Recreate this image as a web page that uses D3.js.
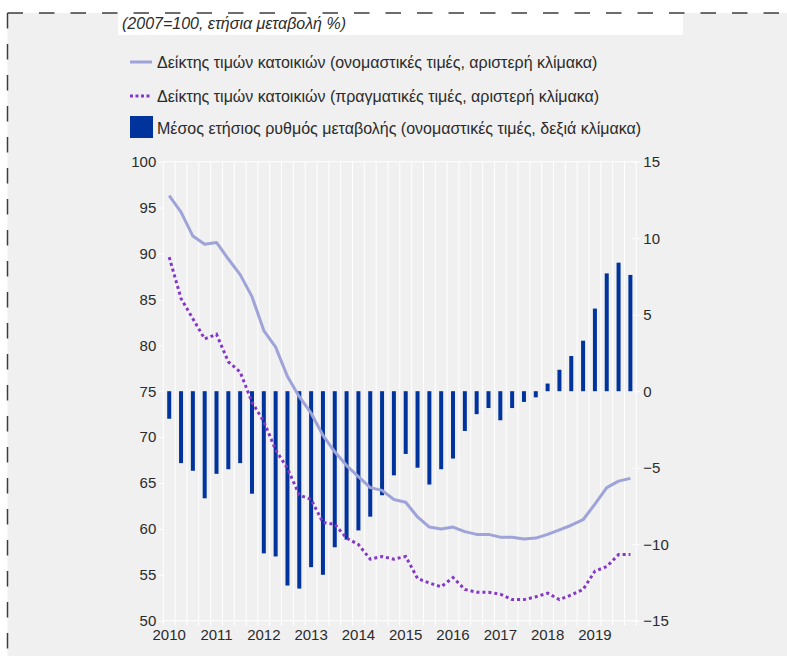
<!DOCTYPE html>
<html>
<head>
<meta charset="utf-8">
<script src="https://cdn.jsdelivr.net/npm/d3@7/dist/d3.min.js"></script>
<style>
  html, body { margin: 0; padding: 0; background: #ffffff; }
  svg { display: block; }
</style>
</head>
<body>
<svg id="chart" width="787" height="656"></svg>
<script>
// ---- Data ----
const quarters = [
  "2010Q1","2010Q2","2010Q3","2010Q4","2011Q1","2011Q2","2011Q3","2011Q4",
  "2012Q1","2012Q2","2012Q3","2012Q4","2013Q1","2013Q2","2013Q3","2013Q4",
  "2014Q1","2014Q2","2014Q3","2014Q4","2015Q1","2015Q2","2015Q3","2015Q4",
  "2016Q1","2016Q2","2016Q3","2016Q4","2017Q1","2017Q2","2017Q3","2017Q4",
  "2018Q1","2018Q2","2018Q3","2018Q4","2019Q1","2019Q2","2019Q3","2019Q4"
];
const yearLabels = ["2010","2011","2012","2013","2014","2015","2016","2017","2018","2019"];
const leftTicks = [50, 55, 60, 65, 70, 75, 80, 85, 90, 95, 100];
const rightTicks = [-15, -10, -5, 0, 5, 10, 15];

// Nominal house price index (left scale)
const nominalIndex = [
  96.3, 94.5, 91.9, 91.0, 91.2, 89.4, 87.7, 85.3,
  81.6, 79.8, 76.6, 74.4, 72.6, 70.2, 68.4, 66.9,
  65.7, 64.5, 64.2, 63.2, 62.9, 61.3, 60.2, 60.0,
  60.2, 59.7, 59.4, 59.4, 59.1, 59.1, 58.9, 59.0,
  59.4, 59.9, 60.4, 61.0, 62.7, 64.5, 65.2, 65.5
];
// Real house price index (left scale)
const realIndex = [
  89.6, 85.1, 82.9, 80.7, 81.2, 78.2, 77.1, 73.8,
  71.7, 68.6, 66.6, 63.7, 63.2, 60.7, 60.5, 59.0,
  58.3, 56.7, 57.0, 56.7, 57.0, 54.6, 54.1, 53.7,
  54.7, 53.4, 53.1, 53.1, 52.9, 52.3, 52.3, 52.6,
  53.0, 52.3, 52.8, 53.4, 55.4, 55.9, 57.2, 57.2
];
// Average annual rate of change (right scale)
const annualChange = [
  -1.8, -4.7, -5.2, -7.0, -5.4, -5.1, -4.7, -6.7,
  -10.6, -10.8, -12.7, -12.9, -11.5, -12.0, -10.2, -9.7,
  -9.1, -8.2, -6.8, -5.5, -4.1, -5.0, -6.1, -5.1,
  -4.4, -2.6, -1.5, -1.1, -1.9, -1.1, -0.7, -0.4,
  0.5, 1.4, 2.3, 3.3, 5.4, 7.7, 8.4, 7.6
];

const titleText = "(2007=100, ετήσια μεταβολή %)";
const legendLabels = [
  "Δείκτης τιμών κατοικιών (ονομαστικές τιμές, αριστερή κλίμακα)",
  "Δείκτης τιμών κατοικιών (πραγματικές τιμές, αριστερή κλίμακα)",
  "Μέσος ετήσιος ρυθμός μεταβολής (ονομαστικές τιμές, δεξιά κλίμακα)"
];

// ---- Styles ----
const C = {
  bg: "#f0f0f0",
  grid: "#ffffff",
  bar: "#00339c",
  nominal: "#9ea3d8",
  real: "#8438c8",
  text: "#2b2b2b",
  border: "#3c3c3c"
};
const FONT = "'Liberation Sans', Arial, sans-serif";
const NARROW = "'Liberation Sans Narrow', 'Liberation Sans', Arial, sans-serif";

const svg = d3.select("#chart");
const W = 787, H = 656;

// Background panel
svg.append("rect").attr("x", 7.5).attr("y", 13).attr("width", W - 7.5).attr("height", H - 13).attr("fill", C.bg);
// Title strip
svg.append("rect").attr("x", 118).attr("y", 13).attr("width", 565).attr("height", 22).attr("fill", "#ffffff");
// Dashed border (top + left)
svg.append("line").attr("x1", 7.5).attr("x2", W).attr("y1", 13).attr("y2", 13)
  .attr("stroke", C.border).attr("stroke-width", 1.5).attr("stroke-dasharray", "15.5,16");
svg.append("line").attr("x1", 7.5).attr("x2", 7.5).attr("y1", 13).attr("y2", H)
  .attr("stroke", C.border).attr("stroke-width", 1.5).attr("stroke-dasharray", "15.5,15.5");

svg.append("text").attr("x", 122).attr("y", 29)
  .attr("font-family", NARROW).attr("font-size", 16).attr("font-style", "italic")
  .attr("fill", C.text).text(titleText);

// ---- Legend ----
const lg = svg.append("g");
const legY = [62, 96, 128];
lg.append("line").attr("x1", 130).attr("x2", 152).attr("y1", legY[0]).attr("y2", legY[0])
  .attr("stroke", C.nominal).attr("stroke-width", 3);
lg.append("line").attr("x1", 130).attr("x2", 152).attr("y1", legY[1]).attr("y2", legY[1])
  .attr("stroke", C.real).attr("stroke-width", 3).attr("stroke-dasharray", "3,2.5");
lg.append("rect").attr("x", 130).attr("y", 116).attr("width", 23).attr("height", 22).attr("fill", C.bar);
legendLabels.forEach((t, i) => {
  lg.append("text").attr("x", 157).attr("y", legY[i]).attr("dy", "0.36em")
    .attr("font-family", NARROW).attr("font-size", 16).attr("fill", C.text).text(t);
});

// ---- Scales ----
const plotL = 163.3, plotR = 636.3, plotT = 161.7, plotB = 620.7;
const x = d3.scaleBand().domain(quarters).range([plotL, plotR]).padding(0);
const yL = d3.scaleLinear().domain([50, 100]).range([plotB, plotT]);
const yR = d3.scaleLinear().domain([-15, 15]).range([plotB, plotT]);

// ---- Grid ----
const grid = svg.append("g");
const bounds = quarters.map(q => x(q)).concat([plotR]);
grid.selectAll("line.v").data(bounds).enter().append("line")
  .attr("x1", d => d).attr("x2", d => d).attr("y1", plotT).attr("y2", plotB + 5)
  .attr("stroke", C.grid).attr("stroke-width", 1);
grid.append("line").attr("x1", plotL).attr("x2", plotR).attr("y1", plotT).attr("y2", plotT)
  .attr("stroke", C.grid).attr("stroke-width", 1);
grid.append("line").attr("x1", plotL).attr("x2", plotR).attr("y1", plotB).attr("y2", plotB)
  .attr("stroke", C.grid).attr("stroke-width", 1);

// ---- Axes ----
const axL = svg.append("g").attr("transform", `translate(${plotL},0)`)
  .call(d3.axisLeft(yL).tickValues(leftTicks).tickSize(5).tickPadding(2));
const axR = svg.append("g").attr("transform", `translate(${plotR - 4},0)`)
  .call(d3.axisRight(yR).tickValues(rightTicks).tickSize(8).tickPadding(3));
const xAx = svg.append("g").attr("transform", `translate(0,${plotB})`)
  .call(d3.axisBottom(x).tickValues(quarters.filter(q => q.endsWith("Q1")))
    .tickFormat(q => yearLabels[quarters.indexOf(q) / 4]).tickSize(0).tickPadding(9));
[axL, axR, xAx].forEach(a => {
  a.select(".domain").remove();
  a.selectAll(".tick line").attr("stroke", C.grid);
  a.selectAll("text").attr("font-family", FONT).attr("font-size", 15).attr("fill", C.text);
});

// ---- Bars ----
const barW = 4;
svg.append("g").selectAll("rect").data(annualChange).enter().append("rect")
  .attr("x", (d, i) => x(quarters[i]) + x.bandwidth() / 2 - barW / 2)
  .attr("width", barW)
  .attr("y", d => Math.min(yR(d), yR(0)))
  .attr("height", d => Math.abs(yR(d) - yR(0)))
  .attr("fill", C.bar);

// ---- Lines ----
const lineGen = d3.line()
  .x((d, i) => x(quarters[i]) + x.bandwidth() / 2)
  .y(d => yL(d));
svg.append("path").datum(nominalIndex).attr("d", lineGen)
  .attr("fill", "none").attr("stroke", C.nominal).attr("stroke-width", 3).attr("stroke-linejoin", "round");
svg.append("path").datum(realIndex).attr("d", lineGen)
  .attr("fill", "none").attr("stroke", C.real).attr("stroke-width", 3).attr("stroke-dasharray", "3,3");
</script>
</body>
</html>
